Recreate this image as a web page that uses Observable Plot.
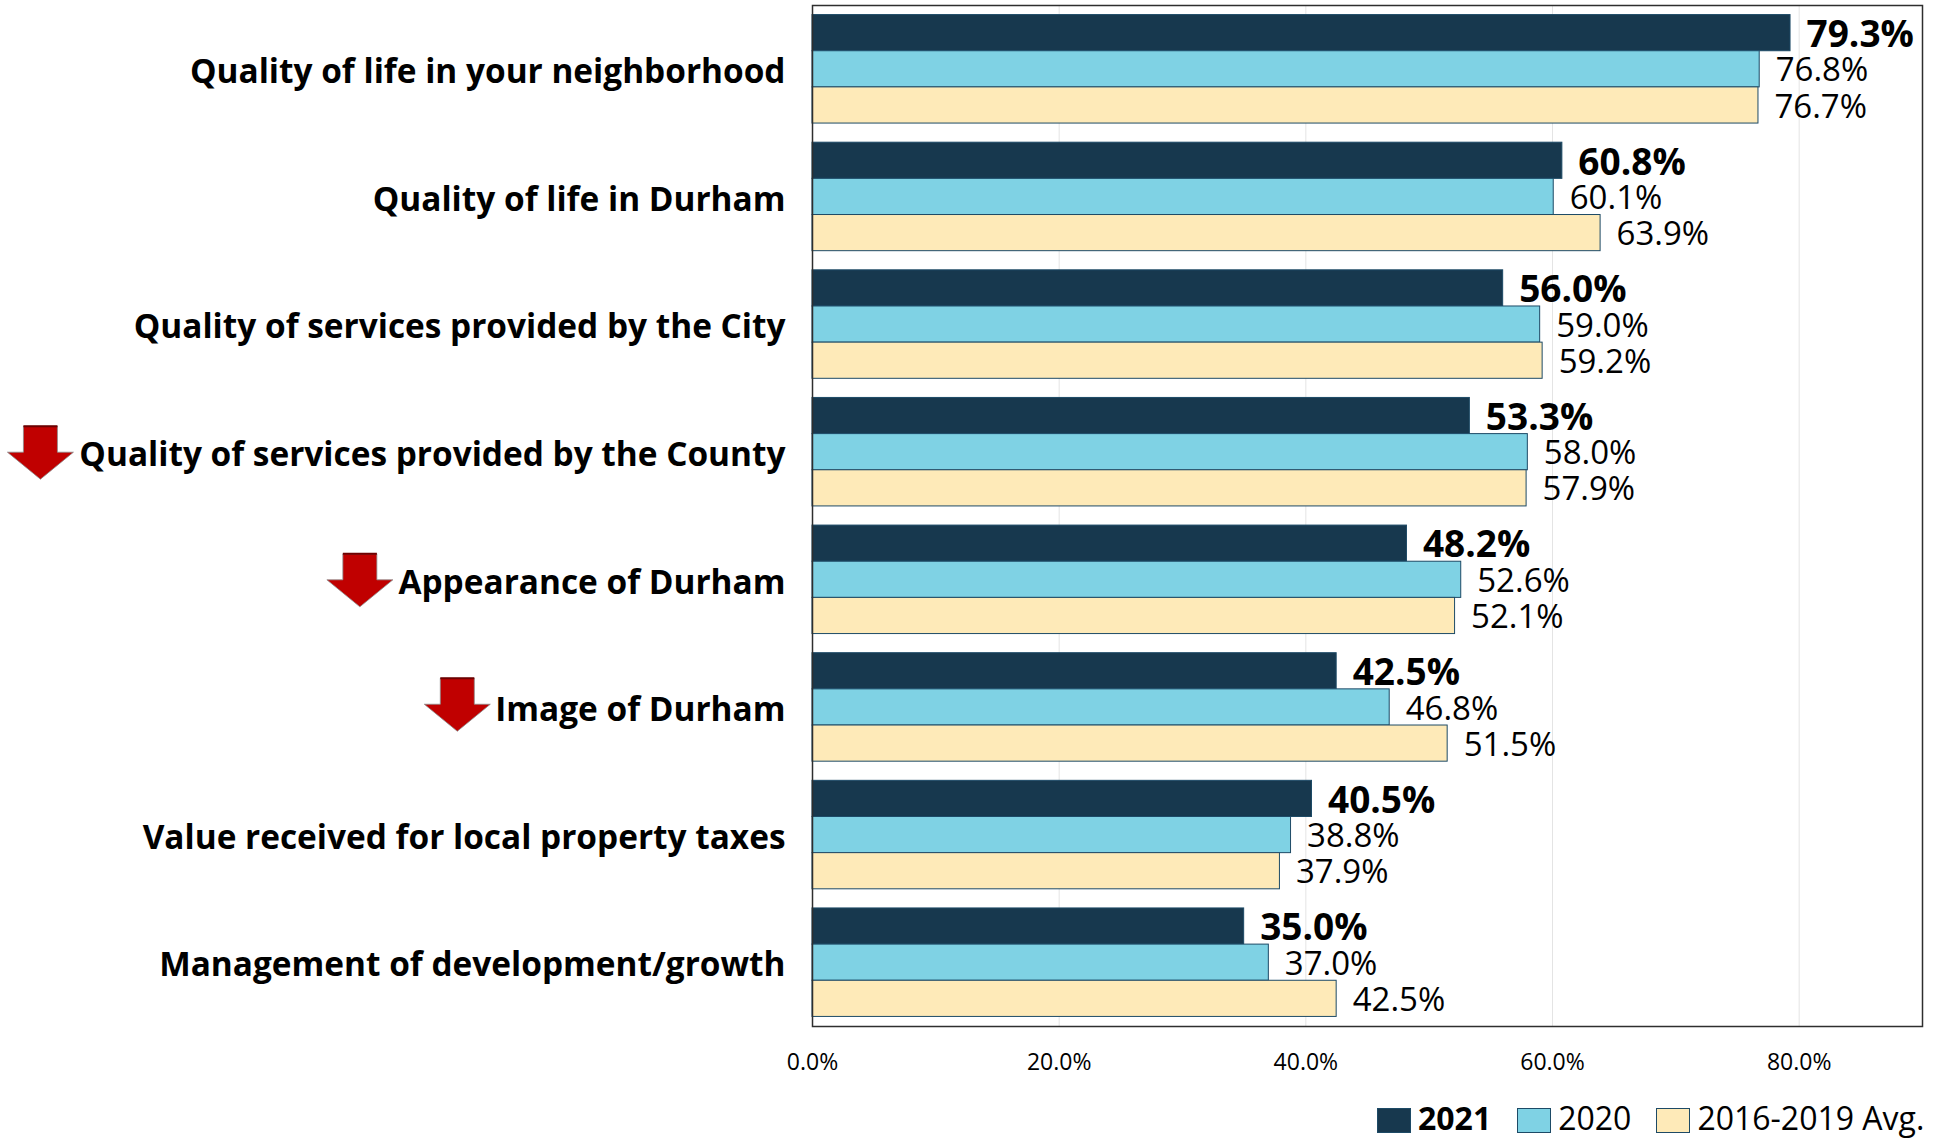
<!DOCTYPE html>
<html>
<head>
<meta charset="utf-8">
<script src="https://cdn.jsdelivr.net/npm/d3@7"></script>
<script src="https://cdn.jsdelivr.net/npm/@observablehq/plot@0.6"></script>
<style>
html,body{margin:0;padding:0;background:#fff;overflow:hidden}
#chart svg{display:block}
#legend{position:absolute;left:1377px;top:1101px;height:34px;display:flex;align-items:center;font-family:"Open Sans",sans-serif;font-size:32px;line-height:1;color:#000;white-space:nowrap}
#legend i{display:inline-block;width:34px;height:25px;box-sizing:border-box;border:1px solid #1d4a66;margin-right:7px;position:relative;top:2px}
#legend span{display:flex;align-items:center}
</style>
</head>
<body>
<div id="chart"></div>
<div id="legend"></div>
<script>
const categories = [
  "Quality of life in your neighborhood",
  "Quality of life in Durham",
  "Quality of services provided by the City",
  "Quality of services provided by the County",
  "Appearance of Durham",
  "Image of Durham",
  "Value received for local property taxes",
  "Management of development/growth"
];
const series = ["2021", "2020", "2016-2019 Avg."];
const colors = ["#17384e", "#7fd2e4", "#feeab8"];
const values2021 = [79.3, 60.8, 56.0, 53.3, 48.2, 42.5, 40.5, 35.0];
const values2020 = [76.8, 60.1, 59.0, 58.0, 52.6, 46.8, 38.8, 37.0];
const valuesAvg  = [76.7, 63.9, 59.2, 57.9, 52.1, 51.5, 37.9, 42.5];
const xTicks = [0, 20, 40, 60, 80];
// Declining items: the arrow's place on the two axes (left of the labels)
const arrowX = [-62.6, -36.7, -28.8];
const arrowY = [3.5, 4.5, 5.475];

// Each category occupies one unit of y; its three bars share the unit, with a gap around them.
const groupPad = 0.075;
const barSize = (1 - 2 * groupPad) / series.length;
const rows = categories.flatMap((category, i) => [values2021, values2020, valuesAvg].map((v, s) => ({
  category, series: series[s], value: v[i],
  y1: i + groupPad + s * barSize,
  y2: i + groupPad + (s + 1) * barSize
})));
const arrows = arrowX.map((x, i) => ({x, y: arrowY[i]}));
const fmt = d => d.toFixed(1) + "%";

const arrowSymbol = {draw(c) {
  c.moveTo(-17, -26); c.lineTo(17, -26); c.lineTo(17, 0); c.lineTo(33, 0); c.lineTo(0, 27);
  c.lineTo(-33, 0); c.lineTo(-17, 0); c.closePath();
}};
const capSymbol = {draw(c) {
  c.moveTo(-17, -27); c.lineTo(17, -27); c.lineTo(17, -25); c.lineTo(-17, -25); c.closePath();
}};

const font = '"Open Sans", sans-serif';
const chart = Plot.plot({
  width: 1940, height: 1085,
  marginLeft: 812, marginRight: 18, marginTop: 5, marginBottom: 59,
  style: {fontFamily: font, color: "#000", background: "#fff"},
  x: {domain: [0, 90], axis: null},
  y: {domain: [0, categories.length], reverse: true, axis: null},
  color: {domain: series, range: colors},
  marks: [
    Plot.ruleX(xTicks, {x: d => d, stroke: "#e4e4e4", strokeOpacity: 1}),
    Plot.rectX(rows, {x1: 0, x2: "value", y1: "y1", y2: "y2", fill: "series", stroke: "#1d4a66", strokeWidth: 1}),
    Plot.text(rows.filter(d => d.series === series[0]), {x: "value", y: d => (d.y1 + d.y2) / 2, text: d => fmt(d.value),
      textAnchor: "start", dx: 16, dy: 2, fontSize: 37, fontWeight: 700, fill: "#000"}),
    Plot.text(rows.filter(d => d.series !== series[0]), {x: "value", y: d => (d.y1 + d.y2) / 2, text: d => fmt(d.value),
      textAnchor: "start", dx: 16, dy: 1.5, fontSize: 33, fill: "#000"}),
    Plot.axisY(categories.map((d, i) => i + 0.5), {anchor: "left", label: null, tickSize: 0, tickPadding: 27, dy: 3,
      fontSize: 33.4, fontWeight: 700, fill: "#000", tickFormat: d => categories[d - 0.5]}),
    Plot.axisX(xTicks, {anchor: "bottom", label: null, tickSize: 0, tickPadding: 27, fontSize: 23, tickFormat: fmt, fill: "#000"}),
    Plot.dot(arrows, {x: "x", y: "y", symbol: arrowSymbol, fill: "#c00000", stroke: "#8c8c8c", strokeWidth: 0.8}),
    Plot.dot(arrows, {x: "x", y: "y", symbol: capSymbol, fill: "#6e0000", stroke: "none"}),
    Plot.frame({stroke: "#2e2e2e", strokeWidth: 1.5})
  ]
});
document.getElementById("chart").append(chart);

const legend = document.getElementById("legend");
series.forEach((name, i) => {
  const s = document.createElement("span");
  s.style.marginRight = i === 0 ? "26px" : "25px";
  s.style.fontWeight = i === 0 ? "700" : "400";
  const sw = document.createElement("i");
  sw.style.background = colors[i];
  s.append(sw, document.createTextNode(name));
  legend.append(s);
});
</script>
</body>
</html>
